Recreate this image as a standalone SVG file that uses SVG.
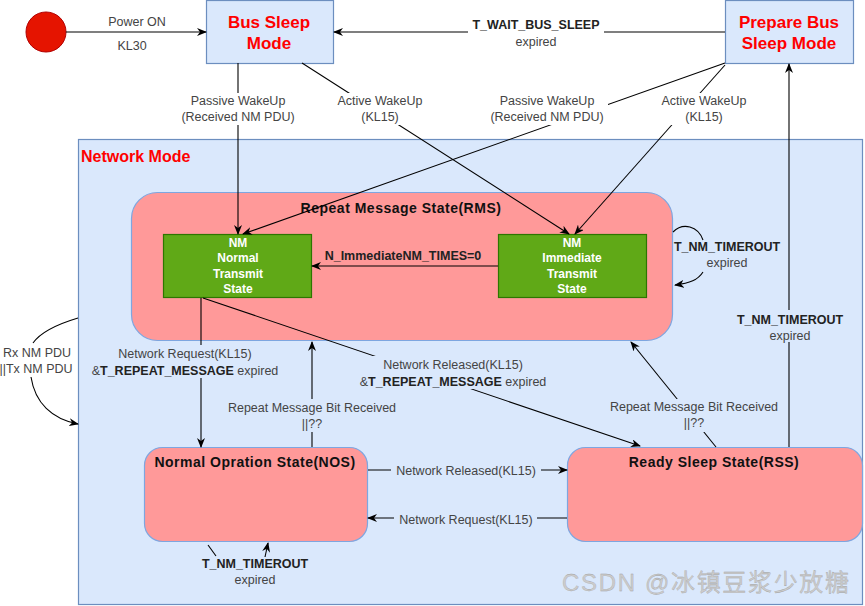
<svg xmlns="http://www.w3.org/2000/svg" width="865" height="606" viewBox="0 0 865 606">
<defs>
<marker id="arr" markerWidth="10" markerHeight="8" refX="9" refY="4" orient="auto" markerUnits="userSpaceOnUse">
<path d="M0,0 L10,4 L0,8 L3,4 z" fill="#000"/>
</marker>
<style>
text{font-family:"Liberation Sans",Arial,sans-serif;}
.lbl{font-size:12.5px;fill:#444;text-anchor:middle;}
.blbl{font-size:12.5px;fill:#222;font-weight:bold;text-anchor:middle;}
.mode{fill:#dae8fc;stroke:#6c8ebf;stroke-width:1.2;}
.modet{font-size:17px;font-weight:bold;fill:#ff0000;text-anchor:middle;}
.state{fill:#ff9999;stroke:#7ea6e0;stroke-width:1.2;}
.statet{font-size:14px;font-weight:bold;fill:#111;text-anchor:middle;letter-spacing:0.5px;}
.sub{fill:#60a917;stroke:#2d7600;stroke-width:1.2;}
.subt{font-size:12px;font-weight:bold;fill:#fff;text-anchor:middle;}
.ln{fill:none;stroke:#000;stroke-width:1.1;}
.ar{fill:none;stroke:#000;stroke-width:1.1;marker-end:url(#arr);}
.bgw{fill:#fff;}
.bgb{fill:#dae8fc;}
</style>
</defs>
<rect width="865" height="606" fill="#fff"/>

<g id="network-mode">
<rect class="mode" x="78.5" y="139.5" width="784" height="465"/>
<text x="81" y="162" style="font-size:16px;font-weight:bold;fill:#ff0000;">Network Mode</text>
</g>

<g id="start">
<circle cx="46" cy="32" r="20" fill="#e51400" stroke="#b20000"/>
</g>

<g id="bus-sleep">
<rect class="mode" x="206.5" y="0.5" width="127" height="63"/>
<text class="modet" x="269" y="28">Bus Sleep</text>
<text class="modet" x="269" y="49">Mode</text>
</g>

<g id="prepare-bus-sleep">
<rect class="mode" x="725.5" y="0.5" width="128" height="63"/>
<text class="modet" x="789" y="28">Prepare Bus</text>
<text class="modet" x="789" y="49">Sleep Mode</text>
</g>

<g id="rms">
<rect class="state" x="131.5" y="192.5" width="541" height="148" rx="26" ry="26"/>
<text class="statet" x="401" y="213">Repeat Message State(RMS)</text>
</g>

<g id="nm-normal">
<rect class="sub" x="163.5" y="234.5" width="148" height="63"/>
<text class="subt" x="238" y="247">NM</text>
<text class="subt" x="238" y="262">Normal</text>
<text class="subt" x="238" y="278">Transmit</text>
<text class="subt" x="238" y="293">State</text>
</g>

<g id="nm-immediate">
<rect class="sub" x="498.5" y="234.5" width="148" height="63"/>
<text class="subt" x="572" y="247">NM</text>
<text class="subt" x="572" y="262">Immediate</text>
<text class="subt" x="572" y="278">Transmit</text>
<text class="subt" x="572" y="293">State</text>
</g>

<g id="nos">
<rect class="state" x="144.5" y="447.5" width="223" height="94" rx="18" ry="18"/>
<text class="statet" x="255" y="467">Normal Opration State(NOS)</text>
</g>

<g id="rss">
<rect class="state" x="567.5" y="447.5" width="295" height="94" rx="18" ry="18"/>
<text class="statet" x="714" y="467">Ready Sleep State(RSS)</text>
</g>

<g id="connectors">
<path class="ar" d="M66,32 L206,32"/>
<text class="lbl" x="137" y="26">Power ON</text>
<text class="lbl" x="132" y="50">KL30</text>

<path class="ar" d="M725,32 L334,32"/>
<rect class="bgw" x="468" y="18" width="136" height="30"/>
<text class="blbl" x="536" y="29">T_WAIT_BUS_SLEEP</text>
<text class="lbl" x="536" y="46">expired</text>

<path class="ar" d="M238,63 L238,234"/>
<rect class="bgw" x="178" y="93" width="120" height="32"/>
<text class="lbl" x="238" y="105">Passive WakeUp</text>
<text class="lbl" x="238" y="121">(Received NM PDU)</text>

<path class="ar" d="M302,63 L569,234"/>
<rect class="bgw" x="333" y="93" width="94" height="32"/>
<text class="lbl" x="380" y="105">Active WakeUp</text>
<text class="lbl" x="380" y="121">(KL15)</text>

<path class="ar" d="M725,63 L243,234"/>
<rect class="bgw" x="486" y="93" width="122" height="32"/>
<text class="lbl" x="547" y="105">Passive WakeUp</text>
<text class="lbl" x="547" y="121">(Received NM PDU)</text>

<path class="ar" d="M725,65 L575,234"/>
<rect class="bgw" x="657" y="93" width="94" height="32"/>
<text class="lbl" x="704" y="105">Active WakeUp</text>
<text class="lbl" x="704" y="121">(KL15)</text>

<path class="ar" d="M498,266 L312,266"/>
<text class="blbl" x="403" y="260">N_ImmediateNM_TIMES=0</text>

<path class="ln" d="M673,232 C683,222 698,226 703,240"/>
<path class="ar" d="M703,272 C698,280 690,283 675,285"/>
<text class="blbl" x="727" y="251">T_NM_TIMEROUT</text>
<text class="lbl" x="727" y="267">expired</text>

<path class="ar" d="M789,447 L789,64"/>
<rect class="bgb" x="733" y="310" width="114" height="32"/>
<text class="blbl" x="790" y="324">T_NM_TIMEROUT</text>
<text class="lbl" x="790" y="340">expired</text>

<path class="ar" d="M201,298 L201,447"/>
<rect class="bgb" x="88" y="345" width="196" height="33"/>
<text class="lbl" x="185" y="358">Network Request(KL15)</text>
<text class="lbl" x="185" y="375">&amp;<tspan font-weight="bold" fill="#222">T_REPEAT_MESSAGE</tspan> expired</text>

<path class="ar" d="M203,298 L640,446"/>
<rect class="bgb" x="354" y="356" width="198" height="33"/>
<text class="lbl" x="453" y="369">Network Released(KL15)</text>
<text class="lbl" x="453" y="386">&amp;<tspan font-weight="bold" fill="#222">T_REPEAT_MESSAGE</tspan> expired</text>

<path class="ar" d="M312,447 L312,342"/>
<rect class="bgb" x="224" y="399" width="176" height="33"/>
<text class="lbl" x="312" y="412">Repeat Message Bit Received</text>
<text class="lbl" x="312" y="428">||??</text>

<path class="ar" d="M716,447 L631,342"/>
<rect class="bgb" x="605" y="399" width="178" height="33"/>
<text class="lbl" x="694" y="411">Repeat Message Bit Received</text>
<text class="lbl" x="694" y="427">||??</text>

<path class="ar" d="M368,470 L567,470"/>
<rect class="bgb" x="391" y="462" width="150" height="16"/>
<text class="lbl" x="466" y="475">Network Released(KL15)</text>

<path class="ar" d="M567,518 L368,518"/>
<rect class="bgb" x="394" y="511" width="143" height="16"/>
<text class="lbl" x="466" y="524">Network Request(KL15)</text>

<path class="ln" d="M208,545 L216,556"/>
<path class="ar" d="M265,557 L268,543"/>
<text class="blbl" x="255" y="568">T_NM_TIMEROUT</text>
<text class="lbl" x="255" y="584">expired</text>

<path class="ln" d="M78,318 C58,324 40,333 33,343"/>
<path class="ar" d="M31,377 C35,403 52,419 78,424"/>
<text class="lbl" x="37" y="357">Rx NM PDU</text>
<text class="lbl" x="36" y="373">||Tx NM PDU</text>
</g>

<text x="562" y="591" style="font-family:'Liberation Sans','Noto Sans CJK SC',sans-serif;font-size:24px;fill:#cccccc;stroke:#a0a0a0;stroke-width:0.3;" textLength="287">CSDN @冰镇豆浆少放糖</text>
</svg>
